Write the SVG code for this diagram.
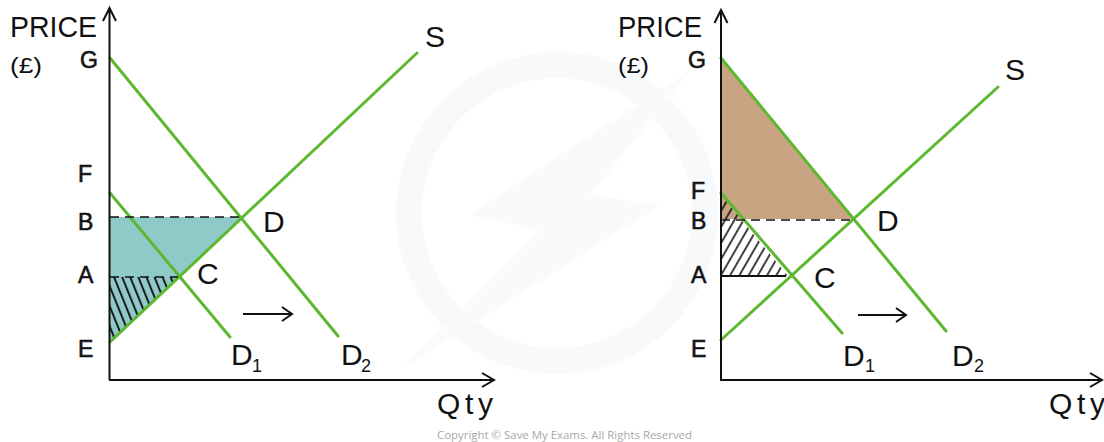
<svg xmlns="http://www.w3.org/2000/svg" width="1104" height="442" viewBox="0 0 1104 442">
<style>
.ax{stroke:#111;stroke-width:2;fill:none}
.g{stroke:#5cb82e;stroke-width:3;fill:none;stroke-linecap:round}
.dash{stroke:#111;stroke-width:1.6;stroke-dasharray:9 6;fill:none}
.t{font-family:"Liberation Sans",Arial,sans-serif;fill:#111}
.big{font-size:30px}
.lab{font-size:23px;stroke:#111;stroke-width:0.6}
.sub{font-size:18px}
.cp{font-family:"Open Sans","Liberation Sans",sans-serif;font-size:11px;fill:#a8a8a8}
</style>
<defs>
<pattern id="hatchL" width="7.5" height="12" patternUnits="userSpaceOnUse" patternTransform="rotate(-22)">
<line x1="2" y1="0" x2="2" y2="12" stroke="#111" stroke-width="1.9"/>
</pattern>
<pattern id="hatchR" width="8" height="12" patternUnits="userSpaceOnUse" patternTransform="rotate(30)">
<line x1="2" y1="0" x2="2" y2="12" stroke="#111" stroke-width="1.6"/>
</pattern>
</defs>
<rect width="1104" height="442" fill="#fff"/>
<g id="watermark" opacity="0.45">
<circle cx="557" cy="213" r="148" fill="none" stroke="#eef3f8" stroke-width="26"/>
<polygon points="690,70 470,215 540,230 400,370 660,205 590,195" fill="#f1f4f7"/>
</g>

<g id="left-chart">
<g id="left-areas">
<polygon points="110,217 243,217 110,342" fill="#8fcac9"/>
<polygon points="110,277 179,277 110,342" fill="url(#hatchL)"/>
</g>
<g id="left-connectors">
<line class="g" x1="110" y1="58" x2="338" y2="336"/>
<line class="g" x1="110" y1="193" x2="230" y2="337"/>
<line class="g" x1="110" y1="342" x2="417" y2="53"/>
<line class="dash" x1="110" y1="217" x2="242" y2="217"/>
<line class="dash" x1="110" y1="277" x2="178" y2="277" stroke-dasharray="12 3"/>
<path class="ax" d="M109.5,380 V8 M103,21 L109.5,8 L116,21"/>
<path class="ax" d="M109,380 H494 M482,373 L494,380 L482,387"/>
<path class="ax" d="M243,314 H292 M282,307 L292,314 L282,321"/>
</g>
<g id="left-price"><text class="t big" x="10" y="37" textLength="87" lengthAdjust="spacingAndGlyphs">PRICE</text><text class="t" x="10" y="73" font-size="22" textLength="32" lengthAdjust="spacingAndGlyphs">(£)</text></g>
<g id="left-G"><text class="t lab" x="80" y="68" font-size="25">G</text></g>
<g id="left-F"><text class="t lab" x="78" y="182">F</text></g>
<g id="left-B"><text class="t lab" x="78" y="230">B</text></g>
<g id="left-A"><text class="t lab" x="78" y="283">A</text></g>
<g id="left-E"><text class="t lab" x="78" y="357">E</text></g>
<g id="left-D"><text class="t big" x="263" y="232" font-size="24">D</text></g>
<g id="left-C"><text class="t big" x="197" y="284" font-size="24">C</text></g>
<g id="left-D1"><text class="t big" x="231" y="365">D</text><text class="t sub" x="252" y="372">1</text></g>
<g id="left-D2"><text class="t big" x="341" y="365">D</text><text class="t sub" x="361" y="372">2</text></g>
<g id="left-S"><text class="t big" x="425" y="47">S</text></g>
<g id="left-Qty"><text class="t big" x="437" y="414" textLength="56" lengthAdjust="spacing">Qty</text></g>
</g>

<g id="right-chart">
<g id="right-areas">
<polygon points="721,58 854,219 721,219" fill="#c8a483"/>
<polygon points="721,195 788,276 721,276" fill="url(#hatchR)"/>
</g>
<g id="right-connectors">
<line class="g" x1="721" y1="58" x2="946" y2="331"/>
<line class="g" x1="721" y1="193" x2="842" y2="333"/>
<line class="g" x1="721" y1="340" x2="998" y2="87"/>
<line class="dash" x1="721" y1="220" x2="853" y2="220"/>
<line class="ax" x1="721" y1="276" x2="786" y2="276" stroke-width="1.6"/>
<path class="ax" d="M721,380 V10 M714.5,23 L721,10 L727.5,23"/>
<path class="ax" d="M720,380 H1102 M1090,373 L1102,380 L1090,387"/>
<path class="ax" d="M858,315 H906 M896,308 L906,315 L896,322"/>
</g>
<g id="right-price"><text class="t big" x="618" y="37" textLength="84" lengthAdjust="spacingAndGlyphs">PRICE</text><text class="t" x="618" y="73" font-size="22" textLength="31" lengthAdjust="spacingAndGlyphs">(£)</text></g>
<g id="right-G"><text class="t lab" x="688" y="68" font-size="25">G</text></g>
<g id="right-F"><text class="t lab" x="691" y="199">F</text></g>
<g id="right-B"><text class="t lab" x="691" y="229">B</text></g>
<g id="right-A"><text class="t lab" x="691" y="283">A</text></g>
<g id="right-E"><text class="t lab" x="691" y="357">E</text></g>
<g id="right-D"><text class="t big" x="877" y="231" font-size="24">D</text></g>
<g id="right-C"><text class="t big" x="814" y="288" font-size="24">C</text></g>
<g id="right-D1"><text class="t big" x="843" y="366">D</text><text class="t sub" x="865" y="372">1</text></g>
<g id="right-D2"><text class="t big" x="952" y="366">D</text><text class="t sub" x="974" y="372">2</text></g>
<g id="right-S"><text class="t big" x="1005" y="80">S</text></g>
<g id="right-Qty"><text class="t big" x="1049" y="414" textLength="56" lengthAdjust="spacing">Qty</text></g>
</g>

<text class="cp" x="437" y="439" textLength="255" lengthAdjust="spacingAndGlyphs">Copyright © Save My Exams. All Rights Reserved</text>
</svg>
